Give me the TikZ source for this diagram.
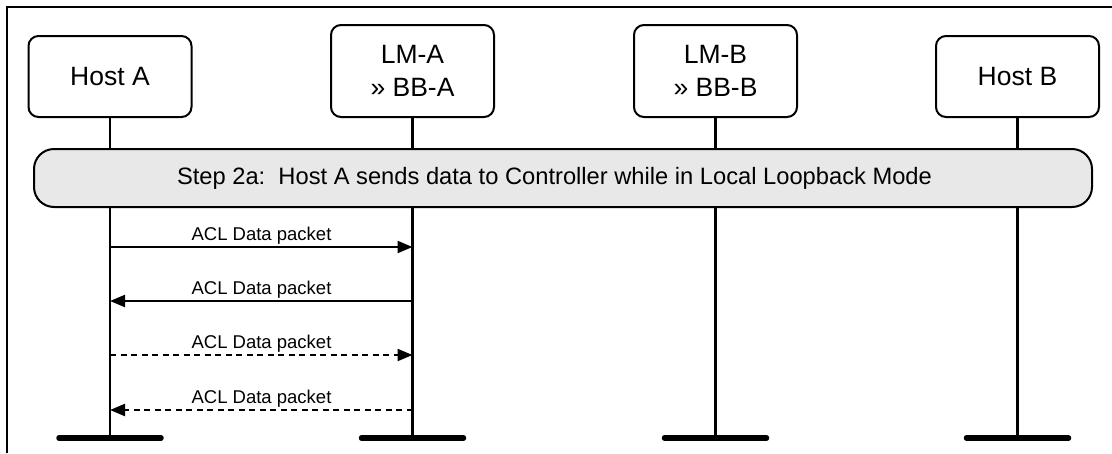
\documentclass[tikz,border=0pt]{standalone}
\usepackage{fontspec}
\setmainfont{Liberation Sans}
\usetikzlibrary{arrows.meta}
\begin{document}
\begin{tikzpicture}[x=1pt,y=-1pt,
  ent/.style={draw, line width=2pt, rounded corners=10pt, minimum width=163pt, align=center, font=\fontsize{26.5}{33}\selectfont, inner sep=0pt},
  life/.style={line width=2.2pt},
  foot/.style={line width=5.5pt, line cap=round},
  msg/.style={line width=2.2pt, -{Triangle[length=15pt,width=12pt]}},
  dmsg/.style={msg, dash pattern=on 6pt off 4.5pt},
  lbl/.style={font=\fontsize{18.5}{20}\selectfont, inner sep=0pt, anchor=base},
  bar/.style={draw, line width=2pt, fill=black!9, rounded corners=20pt, minimum width=1058pt, minimum height=58pt, inner sep=0pt},
  frame/.style={line width=2.4pt}
]
\useasboundingbox (0,0) rectangle (1112,453);
\draw[frame] (7,453) -- (7,7) -- (1112,7);

\node[ent, minimum height=81pt] (hA) at (110,76.5) {Host A};
\node[ent, minimum height=92pt] (lA) at (412.5,71) {LM-A\\» BB-A};
\node[ent, minimum height=92pt] (lB) at (715.5,71) {LM-B\\» BB-B};
\node[ent, minimum height=81pt] (hB) at (1017.5,76.5) {Host B};

\coordinate (fA) at (110,438);
\coordinate (fLA) at (412.5,438);
\coordinate (fLB) at (715.5,438);
\coordinate (fB) at (1017.5,438);

\draw[life] (hA.south) -- (fA);
\draw[life] (lA.south) -- (fLA);
\draw[life] (lB.south) -- (fLB);
\draw[life] (hB.south) -- (fB);

\foreach \f in {fA,fLA,fLB,fB}
  \draw[foot] ([xshift=-51pt]\f) -- ([xshift=51pt]\f);

\node[bar] (step) at (563,178) {};
\node[font=\fontsize{23.7}{26}\selectfont, inner sep=0pt] (steplbl) at (554.5,178) {Step 2a:\ \ Host A sends data to Controller while in Local Loopback Mode};

\coordinate (a1) at (110,247); \coordinate (b1) at (412.5,247);
\coordinate (a2) at (110,301); \coordinate (b2) at (412.5,301);
\coordinate (a3) at (110,355); \coordinate (b3) at (412.5,355);
\coordinate (a4) at (110,410); \coordinate (b4) at (412.5,410);

\draw[msg] (a1) -- (b1);
\draw[msg] (b2) -- (a2);
\draw[dmsg] (a3) -- (b3);
\draw[dmsg] (b4) -- (a4);

\node[lbl] (l1) at (261.5,240.5) {ACL Data packet};
\node[lbl] (l2) at (261.5,294.5) {ACL Data packet};
\node[lbl] (l3) at (261.5,348.5) {ACL Data packet};
\node[lbl] (l4) at (261.5,403.5) {ACL Data packet};
\end{tikzpicture}
\end{document}
